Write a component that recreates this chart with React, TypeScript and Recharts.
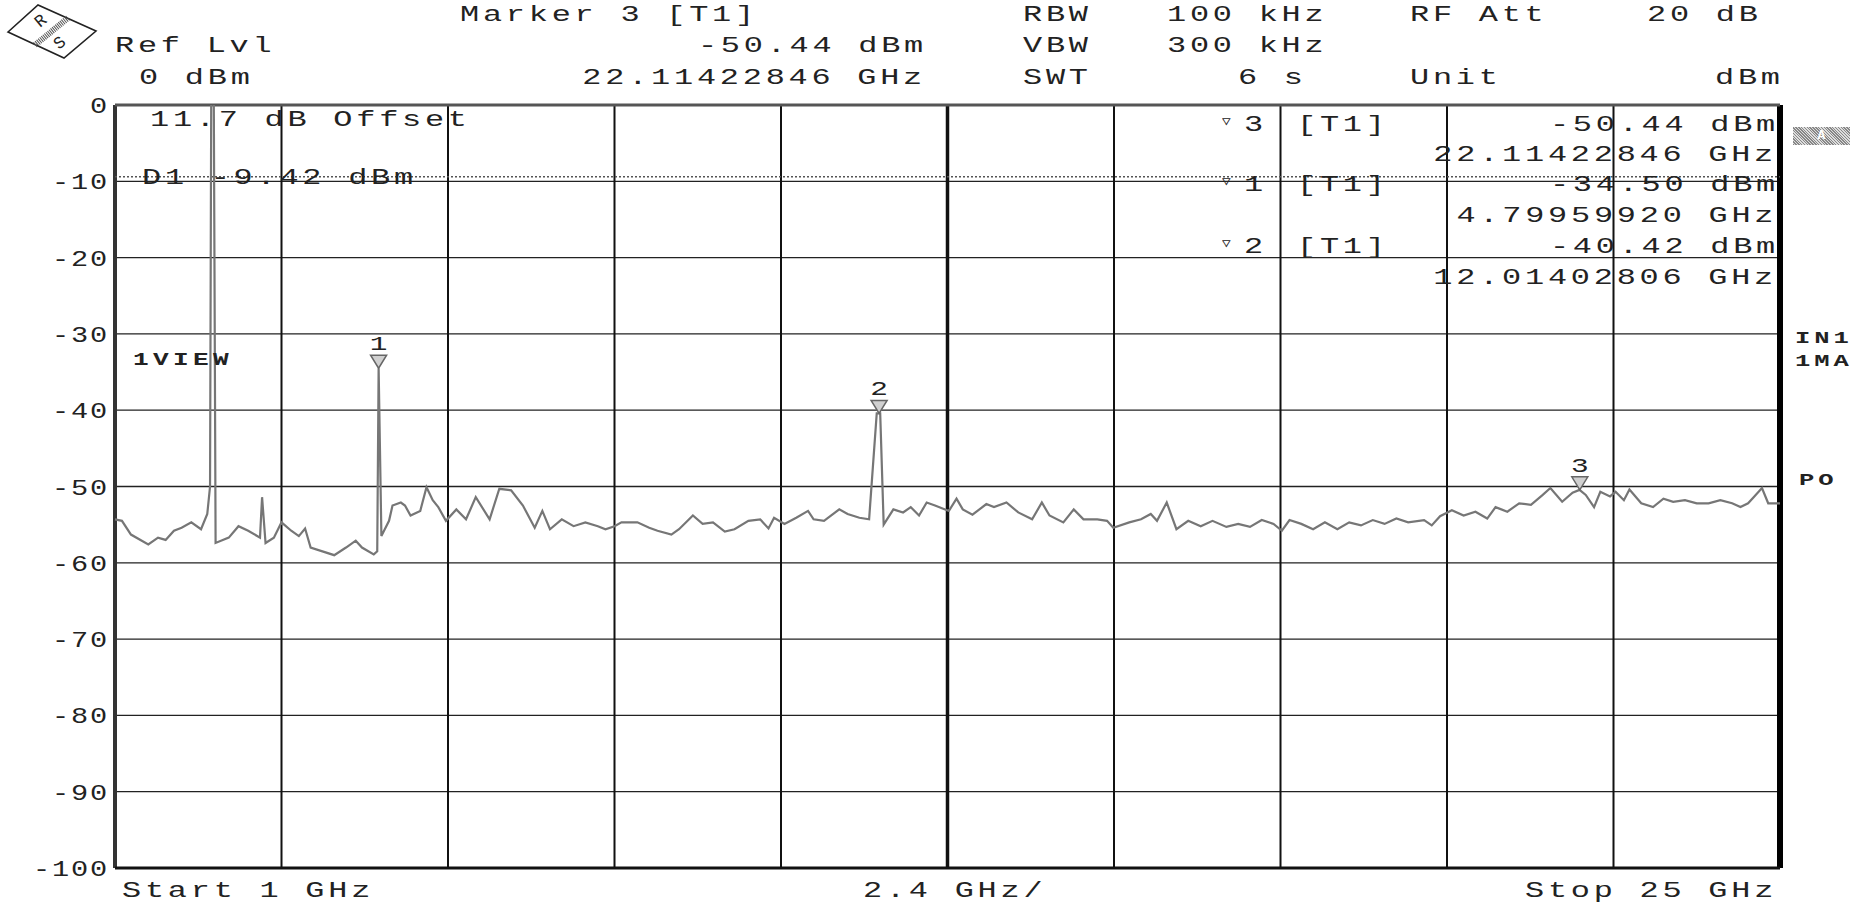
import React from "react";
import { CartesianGrid, Line, LineChart, ReferenceDot, ReferenceLine, XAxis, YAxis } from "recharts";

const W = 1858;
const H = 903;

// trace, GHz / dBm
const freqGHz = [
  1.0, 1.1, 1.23, 1.48, 1.62, 1.73, 1.85, 1.96, 2.1, 2.24, 2.33, 2.37, 2.39, 2.42, 2.45, 2.64, 2.78, 2.92, 3.09,
  3.12, 3.17, 3.29, 3.4, 3.54, 3.65, 3.74, 3.82, 3.99, 4.16, 4.33, 4.47, 4.56, 4.73, 4.78, 4.8, 4.84, 4.95, 5.0,
  5.12, 5.18, 5.26, 5.4, 5.49, 5.58, 5.66, 5.77, 5.92, 6.06, 6.2, 6.4, 6.54, 6.71, 6.88, 7.05, 7.16, 7.27, 7.44,
  7.61, 7.78, 7.96, 8.07, 8.2, 8.3, 8.53, 8.7, 8.82, 9.02, 9.13, 9.33, 9.47, 9.62, 9.79, 9.93, 10.13, 10.3, 10.42,
  10.5, 10.65, 10.82, 10.99, 11.07, 11.22, 11.44, 11.56, 11.73, 11.87, 11.98, 12.03, 12.08, 12.22, 12.36, 12.47,
  12.59, 12.7, 12.82, 13.02, 13.13, 13.22, 13.36, 13.56, 13.67, 13.85, 14.02, 14.22, 14.36, 14.47, 14.67, 14.82,
  14.96, 15.16, 15.3, 15.39, 15.62, 15.79, 15.93, 16.02, 16.16, 16.3, 16.47, 16.65, 16.82, 17.02, 17.19, 17.36,
  17.53, 17.7, 17.82, 17.93, 18.1, 18.27, 18.44, 18.62, 18.79, 18.96, 19.13, 19.3, 19.47, 19.64, 19.87, 19.98,
  20.1, 20.27, 20.44, 20.61, 20.78, 20.9, 21.07, 21.24, 21.41, 21.58, 21.69, 21.86, 22.01, 22.11, 22.2, 22.32,
  22.41, 22.55, 22.63, 22.75, 22.83, 23.0, 23.17, 23.32, 23.46, 23.63, 23.8, 23.97, 24.14, 24.31, 24.43, 24.54,
  24.63, 24.74, 24.83, 25.0
];
const levelDbm = [
  -54.3, -54.5, -56.3, -57.6, -56.7, -57.0, -55.8, -55.4, -54.7, -55.6, -53.6, -50.0, 10, 10, -57.4, -56.7, -55.2,
  -55.8, -56.7, -51.4, -57.4, -56.7, -54.7, -55.8, -56.5, -55.5, -58.0, -58.5, -59.0, -58.0, -57.1, -58.0, -58.9,
  -58.5, -34.5, -56.5, -54.5, -52.5, -52.1, -52.5, -53.8, -53.2, -50.1, -51.8, -52.7, -54.5, -53.0, -54.3, -51.4,
  -54.3, -50.3, -50.5, -52.5, -55.4, -53.2, -55.6, -54.3, -55.2, -54.7, -55.2, -55.6, -55.2, -54.7, -54.7, -55.4,
  -55.8, -56.3, -55.6, -53.8, -54.9, -54.7, -55.9, -55.6, -54.5, -54.3, -55.5, -54.1, -54.9, -54.1, -53.2, -54.3,
  -54.5, -53.0, -53.6, -54.1, -54.3, -40.42, -40.42, -55.0, -53.0, -53.4, -52.7, -53.8, -52.1, -52.5, -53.2, -51.6,
  -53.0, -53.7, -52.3, -52.7, -52.1, -53.4, -54.3, -52.1, -53.8, -54.7, -53.0, -54.3, -54.3, -54.5, -55.4, -54.7,
  -54.3, -53.6, -54.5, -52.1, -55.6, -54.5, -55.2, -54.5, -55.3, -54.9, -55.3, -54.4, -54.9, -55.8, -54.4, -54.9,
  -55.6, -54.7, -55.6, -54.7, -55.1, -54.4, -54.9, -54.2, -54.7, -54.4, -55.1, -53.9, -53.1, -53.8, -53.3, -54.2,
  -52.7, -53.3, -52.2, -52.4, -51.1, -50.2, -52.0, -50.8, -50.44, -51.1, -52.7, -50.7, -51.3, -50.7, -51.8, -50.4,
  -52.2, -52.7, -51.6, -52.0, -51.8, -52.2, -52.2, -51.8, -52.2, -52.7, -52.2, -51.3, -50.2, -52.2, -52.2
];

const levelTicks = [0, -10, -20, -30, -40, -50, -60, -70, -80, -90, -100];
const freqTicks = [1, 3.4, 5.8, 8.2, 10.6, 13, 15.4, 17.8, 20.2, 22.6, 25];

// marker table order as shown on screen
const markerNo = [3, 1, 2];
const markerFreq = [22.11422846, 4.7995992, 12.01402806];
const markerLevel = [-50.44, -34.5, -40.42];

const displayLine = -9.42;

const trace = freqGHz.map((f, i) => ({ f, level: levelDbm[i] }));

const mono = '"Liberation Mono", "Courier New", monospace';
const ink = "#222";

function Txt({ x, y, text, end, bold, size = 22, ls = 2.6, sx = 1.45 }: any) {
  const style: React.CSSProperties = {
    position: "absolute",
    top: y - size / 2,
    height: size,
    lineHeight: `${size}px`,
    fontFamily: mono,
    fontSize: size,
    fontWeight: bold ? 700 : 400,
    letterSpacing: ls,
    whiteSpace: "pre",
    color: ink,
    transform: `scaleX(${sx})`,
    transformOrigin: end ? "right center" : "left center"
  };
  if (end) style.right = W - x;
  else style.left = x;
  return <div style={style}>{text}</div>;
}

function LevelTick({ x, y, payload }: any) {
  const v = payload.value;
  return (
    <g transform={`translate(${x},${y}) scale(1.3,1)`}>
      <text x={0} y={0} dy={8} textAnchor="end" fontFamily={mono} fontSize={22} letterSpacing={1.4} fill={ink}>
        {v === 0 ? "0" : `-${Math.abs(v)}`}
      </text>
    </g>
  );
}

function MarkerGlyph({ cx, cy, n }: any) {
  if (cx == null || cy == null) return null;
  return (
    <g>
      <polygon
        points={`${cx - 8},${cy - 13} ${cx + 8},${cy - 13} ${cx},${cy}`}
        fill="#d0d0d0"
        stroke="#666"
        strokeWidth={1.5}
      />
      <g transform={`translate(${cx},${cy - 18}) scale(1.4,1)`}>
        <text x={0} y={0} textAnchor="middle" fontFamily={mono} fontSize={21} fill={ink}>
          {n}
        </text>
      </g>
    </g>
  );
}

function D1Label({ viewBox }: any) {
  if (!viewBox) return null;
  return (
    <g transform={`translate(${viewBox.x + 27},${viewBox.y + 7}) scale(1.45,1)`}>
      <text x={0} y={0} fontFamily={mono} fontSize={22} letterSpacing={2.6} fill={ink}>
        {`D1 ${displayLine.toFixed(2)} dBm`}
      </text>
    </g>
  );
}

function Logo() {
  return (
    <svg width={110} height={64} style={{ position: "absolute", left: 0, top: 0 }}>
      <polygon points="8,32 38,5 96,31 64,58" fill="white" stroke="#222" strokeWidth={1.6} />
      <line x1={35} y1={45} x2={68} y2={18} stroke="#555" strokeWidth={6} strokeDasharray="1 1" />
      <text x={0} y={0} transform="translate(40,28) rotate(-40)" fontFamily={mono} fontSize={17} fill={ink}>
        R
      </text>
      <text x={0} y={0} transform="translate(59,50) rotate(-40)" fontFamily={mono} fontSize={17} fill={ink}>
        S
      </text>
    </svg>
  );
}

export default function App() {
  const rowY = [126, 156, 186, 217, 248, 279];
  const headY = [16, 47, 79];
  return (
    <div style={{ position: "absolute", left: 0, top: 0, width: W, height: H, background: "#fff", overflow: "hidden" }}>
      <LineChart width={W} height={H} data={trace} margin={{ top: 105, right: 78, bottom: 35, left: 55 }}>
        <CartesianGrid vertical={false} stroke="#222" strokeWidth={1.3} />
        <XAxis
          type="number"
          dataKey="f"
          domain={[1, 25]}
          ticks={freqTicks}
          interval={0}
          tick={false}
          axisLine={false}
          tickLine={false}
          height={0}
        />
        <YAxis
          type="number"
          domain={[-100, 0]}
          ticks={levelTicks}
          interval={0}
          allowDataOverflow
          width={60}
          axisLine={false}
          tickLine={false}
          tickSize={0}
          tickMargin={6}
          tick={<LevelTick />}
        />
        {freqTicks.map((f) => (
          <ReferenceLine key={f} x={f} stroke="#111" strokeWidth={2} />
        ))}
        <ReferenceLine x={13} stroke="#111" strokeWidth={3.5} />
        <ReferenceLine x={1} stroke="#333" strokeWidth={4} />
        <ReferenceLine x={25} stroke="#000" strokeWidth={6} />
        <ReferenceLine y={0} stroke="#555" strokeWidth={3} />
        <ReferenceLine y={-100} stroke="#111" strokeWidth={3} />
        <ReferenceLine
          y={displayLine}
          stroke="#555"
          strokeWidth={1.5}
          strokeDasharray="2 2"
          label={(p: any) => <D1Label {...p} />}
        />
        <Line
          type="linear"
          dataKey="level"
          stroke="#767676"
          strokeWidth={2.2}
          dot={false}
          isAnimationActive={false}
        />
        {markerNo.map((n, i) => (
          <ReferenceDot
            key={n}
            x={markerFreq[i]}
            y={markerLevel[i]}
            r={0}
            shape={(p: any) => <MarkerGlyph {...p} n={n} />}
          />
        ))}
      </LineChart>

      <Logo />

      <Txt x={460} y={headY[0]} text={`Marker ${markerNo[0]} [T1]`} />
      <Txt x={115} y={headY[1]} text="Ref Lvl" />
      <Txt x={139} y={headY[2]} text="0 dBm" />
      <Txt x={927} y={headY[1]} end text={`${markerLevel[0].toFixed(2)} dBm`} />
      <Txt x={926} y={headY[2]} end text={`${markerFreq[0].toFixed(8)} GHz`} />
      <Txt x={1023} y={headY[0]} text="RBW" />
      <Txt x={1023} y={headY[1]} text="VBW" />
      <Txt x={1023} y={headY[2]} text="SWT" />
      <Txt x={1167} y={headY[0]} text="100 kHz" />
      <Txt x={1167} y={headY[1]} text="300 kHz" />
      <Txt x={1238} y={headY[2]} text="6 s" />
      <Txt x={1410} y={headY[0]} text="RF Att" />
      <Txt x={1410} y={headY[2]} text="Unit" />
      <Txt x={1647} y={headY[0]} text="20 dB" />
      <Txt x={1715} y={headY[2]} text="dBm" />

      <Txt x={150} y={121} text="11.7 dB Offset" />
      <Txt x={133} y={360} bold text="1VIEW" size={18} ls={3} sx={1.45} />

      {markerNo.map((n, i) => (
        <React.Fragment key={n}>
          <Txt x={1222} y={rowY[i * 2] - 4} text={"\u25BD"} size={12} ls={0} sx={1.2} />
          <Txt x={1244} y={rowY[i * 2]} text={`${n}`} />
          <Txt x={1297} y={rowY[i * 2]} text="[T1]" />
          <Txt x={1779} y={rowY[i * 2]} end text={`${markerLevel[i].toFixed(2)} dBm`} />
          <Txt x={1777} y={rowY[i * 2 + 1]} end text={`${markerFreq[i].toFixed(8)} GHz`} />
        </React.Fragment>
      ))}

      <div
        style={{
          position: "absolute",
          left: 1793,
          top: 127,
          width: 57,
          height: 18,
          background: "repeating-linear-gradient(45deg, #888 0 1px, #ddd 1px 2px)",
          color: "#fff",
          fontFamily: mono,
          fontSize: 13,
          fontWeight: 700,
          textAlign: "center",
          lineHeight: "18px"
        }}
      >
        A
      </div>
      <Txt x={1795} y={338} bold text="IN1" size={17} ls={2.6} sx={1.5} />
      <Txt x={1795} y={361} bold text="1MA" size={17} ls={2.6} sx={1.5} />
      <Txt x={1799} y={480} bold text="PO" size={17} ls={2.6} sx={1.5} />

      <Txt x={122} y={892} text="Start 1 GHz" />
      <Txt x={863} y={892} text="2.4 GHz/" />
      <Txt x={1525} y={892} text="Stop 25 GHz" />
    </div>
  );
}
